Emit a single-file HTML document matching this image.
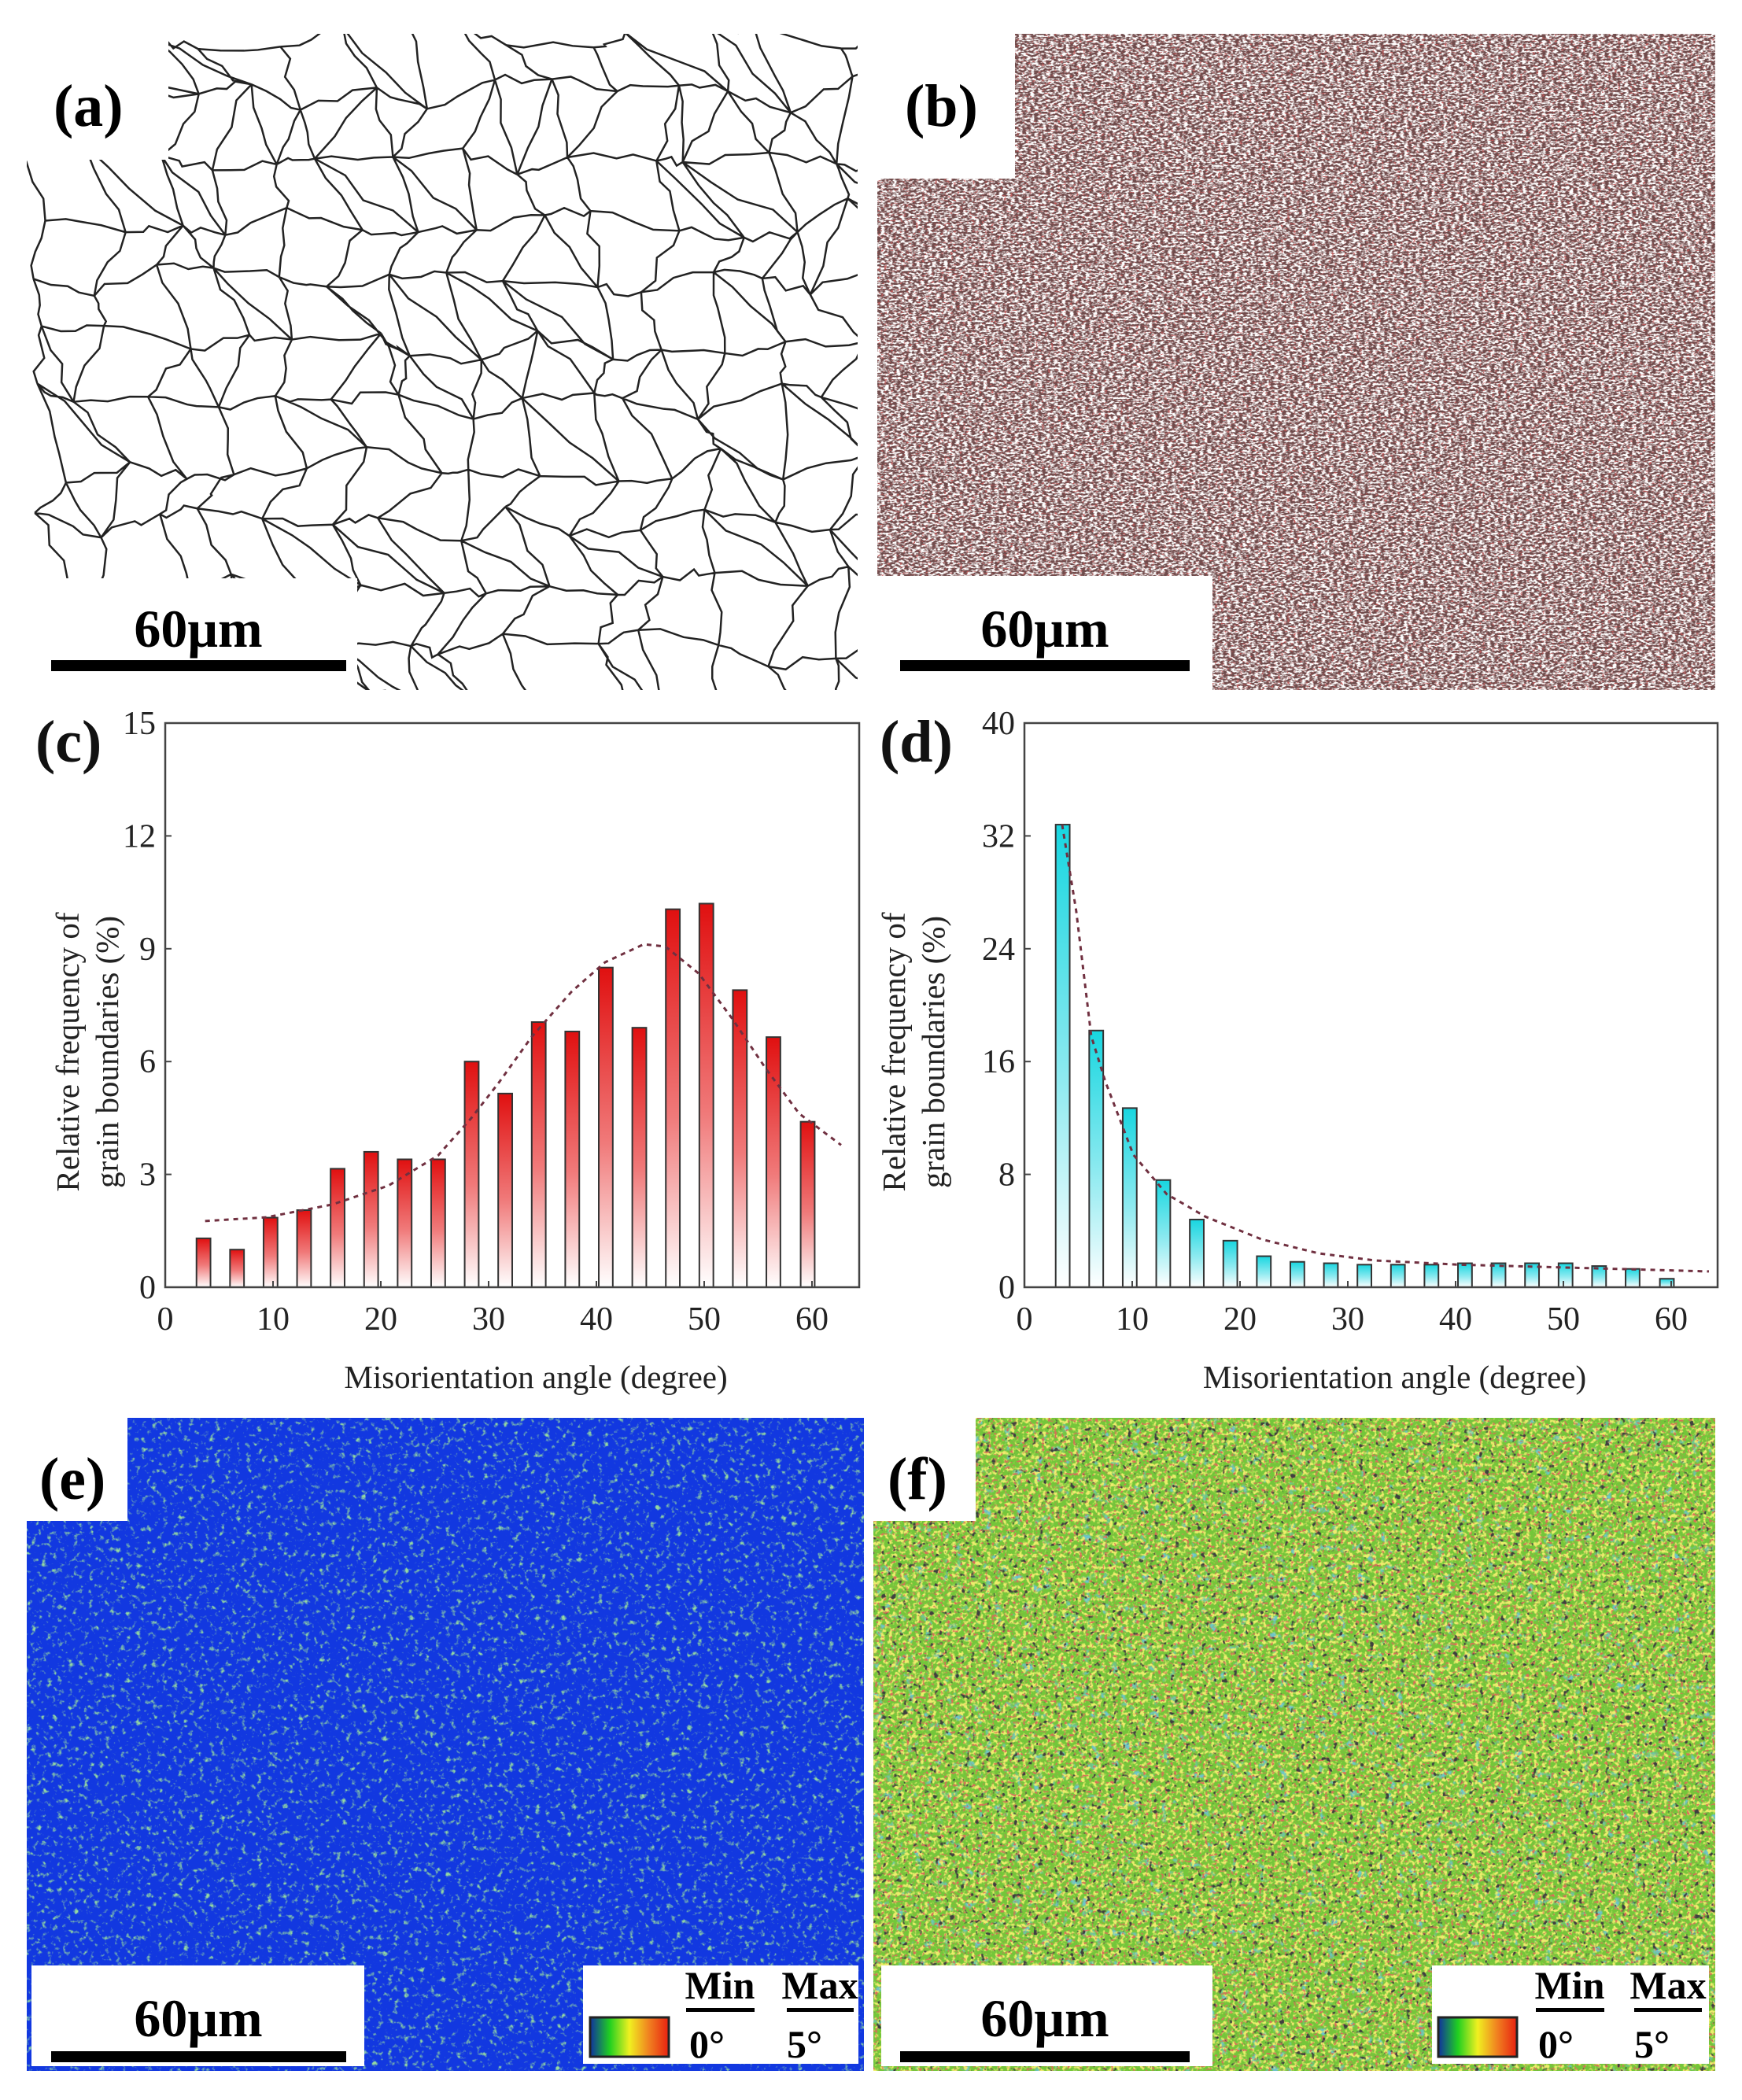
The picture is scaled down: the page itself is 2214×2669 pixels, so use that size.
<!DOCTYPE html>
<html><head><meta charset="utf-8"><style>
html,body{margin:0;padding:0;background:#fff;}
svg{display:block;}
text{font-family:"Liberation Serif",serif;}
</style></head><body>
<svg id="fig" width="2214" height="2669" viewBox="0 0 2214 2669" xmlns="http://www.w3.org/2000/svg">
<defs>
 <linearGradient id="gRed" x1="0" y1="0" x2="0" y2="1"><stop offset="0" stop-color="#e01010"/><stop offset="0.55" stop-color="#f07a7a"/><stop offset="1" stop-color="#ffffff"/></linearGradient>
 <linearGradient id="gCyan" x1="0" y1="0" x2="0" y2="1"><stop offset="0" stop-color="#18d6e0"/><stop offset="0.55" stop-color="#8eeaf0"/><stop offset="1" stop-color="#ffffff"/></linearGradient>
 <linearGradient id="gBar" x1="0" y1="0" x2="1" y2="0"><stop offset="0" stop-color="#1030a0"/><stop offset="0.25" stop-color="#20d020"/><stop offset="0.5" stop-color="#f0f020"/><stop offset="0.75" stop-color="#f08020"/><stop offset="1" stop-color="#e82010"/></linearGradient>
 <filter id="fb" filterUnits="userSpaceOnUse" x="1115" y="43" width="1065" height="834"><feTurbulence type="fractalNoise" baseFrequency="0.2 0.4" numOctaves="2" seed="4"/><feColorMatrix type="matrix" values="0 0 0 0 0.16  0 0 0 0 0.07  0 0 0 0 0.07  -5 0 0 0 3.1"/></filter>
 <filter id="fb2" filterUnits="userSpaceOnUse" x="1115" y="43" width="1065" height="834"><feTurbulence type="fractalNoise" baseFrequency="0.25 0.5" numOctaves="2" seed="9"/><feColorMatrix type="matrix" values="0 0 0 0 0.55  0 0 0 0 0.1  0 0 0 0 0.1  6 0 0 0 -3.6"/></filter>
 <filter id="fe" filterUnits="userSpaceOnUse" x="34" y="1802" width="1064" height="830"><feTurbulence type="fractalNoise" baseFrequency="0.15" numOctaves="3" seed="7"/><feColorMatrix type="matrix" values="0 0 0 0 0.3  0 0 0 0 0.7  0 0 0 0 0.35  4 0 0 0 -2.3"/></filter>
 <filter id="fy" filterUnits="userSpaceOnUse" x="1110" y="1802" width="1070" height="830"><feTurbulence type="fractalNoise" baseFrequency="0.2" numOctaves="2" seed="2"/><feColorMatrix type="matrix" values="0 0 0 0 0.85  0 0 0 0 0.85  0 0 0 0 0.15  5 0 0 0 -2.4"/></filter>
 <filter id="fr" filterUnits="userSpaceOnUse" x="1110" y="1802" width="1070" height="830"><feTurbulence type="fractalNoise" baseFrequency="0.25" numOctaves="2" seed="11"/><feColorMatrix type="matrix" values="0 0 0 0 0.7  0 0 0 0 0.15  0 0 0 0 0.1  6 0 0 0 -3.5"/></filter>
 <filter id="fk" filterUnits="userSpaceOnUse" x="1110" y="1802" width="1070" height="830"><feTurbulence type="fractalNoise" baseFrequency="0.15" numOctaves="2" seed="19"/><feColorMatrix type="matrix" values="0 0 0 0 0.05  0 0 0 0 0.05  0 0 0 0 0.05  8 0 0 0 -5.1"/></filter>
 <filter id="fbl" filterUnits="userSpaceOnUse" x="1110" y="1802" width="1070" height="830"><feTurbulence type="fractalNoise" baseFrequency="0.08" numOctaves="3" seed="23"/><feColorMatrix type="matrix" values="0 0 0 0 0.15  0 0 0 0 0.55  0 0 0 0 0.6  5 0 0 0 -3.1"/></filter>
</defs>

<!-- panel a -->
<g id="panelA"></g>
<rect x="34" y="43" width="180" height="160" fill="#fff"/>
<text x="68" y="160" font-size="76" font-weight="bold">(a)</text>
<rect x="34" y="735" width="420" height="142" fill="#fff"/>
<text x="252" y="822" font-size="68" font-weight="bold" text-anchor="middle">60μm</text>
<rect x="65" y="839" width="375" height="14" fill="#000"/>

<!-- panel b -->
<g>
 <rect x="1115" y="43" width="1065" height="834" fill="#fff"/>
 <rect x="1115" y="43" width="1065" height="834" filter="url(#fb)"/>
 <rect x="1115" y="43" width="1065" height="834" filter="url(#fb2)"/>
</g>
<rect x="1110" y="38" width="180" height="189" fill="#fff"/>
<text x="1150" y="160" font-size="76" font-weight="bold">(b)</text>
<rect x="1110" y="732" width="431" height="150" fill="#fff"/>
<text x="1328" y="822" font-size="68" font-weight="bold" text-anchor="middle">60μm</text>
<rect x="1144" y="839" width="368" height="14" fill="#000"/>

<!-- charts -->
<g id="chartC"></g>
<g id="chartD"></g>

<!-- panel e -->
<g>
 <rect x="34" y="1802" width="1064" height="830" fill="#1238e0"/>
 <rect x="34" y="1802" width="1064" height="830" filter="url(#fe)"/>
</g>
<rect x="34" y="1802" width="128" height="131" fill="#fff"/>
<text x="50" y="1905" font-size="76" font-weight="bold">(e)</text>
<rect x="40" y="2498" width="423" height="128" fill="#fff"/>
<text x="252" y="2588" font-size="68" font-weight="bold" text-anchor="middle">60μm</text>
<rect x="65" y="2607" width="375" height="14" fill="#000"/>
<g>
 <rect x="741" y="2498" width="350" height="125" fill="#fff"/>
 <rect x="750" y="2564" width="100" height="50" fill="url(#gBar)" stroke="#222" stroke-width="3"/>
 <text x="915" y="2540" font-size="50" font-weight="bold" text-anchor="middle">Min</text>
 <rect x="872" y="2552" width="87" height="5" fill="#000"/>
 <text x="876" y="2615" font-size="50" font-weight="bold">0°</text>
 <text x="1042" y="2540" font-size="50" font-weight="bold" text-anchor="middle">Max</text>
 <rect x="1000" y="2552" width="85" height="5" fill="#000"/>
 <text x="1000" y="2615" font-size="50" font-weight="bold">5°</text>
</g>

<!-- panel f -->
<g>
 <rect x="1110" y="1802" width="1070" height="830" fill="#74c63a"/>
 <rect x="1110" y="1802" width="1070" height="830" filter="url(#fbl)"/>
 <rect x="1110" y="1802" width="1070" height="830" filter="url(#fy)"/>
 <rect x="1110" y="1802" width="1070" height="830" filter="url(#fr)"/>
 <rect x="1110" y="1802" width="1070" height="830" filter="url(#fk)"/>
</g>
<rect x="1110" y="1802" width="130" height="131" fill="#fff"/>
<text x="1128" y="1905" font-size="76" font-weight="bold">(f)</text>
<rect x="1120" y="2498" width="421" height="128" fill="#fff"/>
<text x="1328" y="2588" font-size="68" font-weight="bold" text-anchor="middle">60μm</text>
<rect x="1144" y="2607" width="368" height="14" fill="#000"/>
<g>
 <rect x="1820" y="2498" width="352" height="125" fill="#fff"/>
 <rect x="1828" y="2564" width="100" height="50" fill="url(#gBar)" stroke="#222" stroke-width="3"/>
 <text x="1995" y="2540" font-size="50" font-weight="bold" text-anchor="middle">Min</text>
 <rect x="1952" y="2552" width="87" height="5" fill="#000"/>
 <text x="1955" y="2615" font-size="50" font-weight="bold">0°</text>
 <text x="2120" y="2540" font-size="50" font-weight="bold" text-anchor="middle">Max</text>
 <rect x="2077" y="2552" width="86" height="5" fill="#000"/>
 <text x="2077" y="2615" font-size="50" font-weight="bold">5°</text>
</g>
</svg>
<script>
// ---- chart data ----
const barAngles = [3.55,6.66,9.77,12.88,15.99,19.1,22.21,25.32,28.43,31.54,34.65,37.76,40.87,43.98,47.09,50.2,53.31,56.42,59.6];
const valuesC = [1.3,1.0,1.85,2.05,3.15,3.6,3.4,3.4,6.0,5.15,7.05,6.8,8.5,6.9,10.05,10.2,7.9,6.65,4.4];
const valuesD = [32.8,18.2,12.7,7.6,4.8,3.3,2.2,1.8,1.7,1.6,1.6,1.6,1.7,1.7,1.7,1.7,1.5,1.3,0.6];
const fitXC = [3.7,9.4,15.5,20.7,25.3,28.4,31,34,37.7,40.8,44.4,46.4,49.5,52.6,55.7,58.8,62.7];
const fitYC = [1.76,1.86,2.2,2.7,3.5,4.5,5.46,6.66,7.86,8.64,9.12,9.06,8.34,7.14,5.82,4.62,3.78];
const fitXD = [3.5,4.8,6.2,7.5,10.1,13.2,16.8,22,27.3,32.5,40.3,48.1,55.9,63.5];
const fitYD = [32.8,26.7,17.8,14.6,9.4,6.6,5.0,3.4,2.4,1.9,1.6,1.44,1.28,1.12];
const xTicks = [0,10,20,30,40,50,60];
const yTicksC = [0,3,6,9,12,15];
const yTicksD = [0,8,16,24,32,40];

const NS = "http://www.w3.org/2000/svg";
function mk(tag, attrs, parent){const e=document.createElementNS(NS,tag);for(const k in attrs)e.setAttribute(k,attrs[k]);parent.appendChild(e);return e;}

function drawChart(gid, L, R, yMax, vals, fitX, fitY, yTicks, grad, label, t1x, t2x, labX){
  const g=document.getElementById(gid);
  const T=919,B=1636, xMaxDeg=(R-L)/((1032-210)/60);
  const sx=v=>L+v*(R-L)/xMaxDeg, sy=v=>B-v*(B-T)/yMax;
  const bw=1.3*(R-L)/xMaxDeg;
  barAngles.forEach((a,i)=>{
    const r=mk('rect',{x:sx(a)-bw/2,y:sy(vals[i]),width:bw,height:B-sy(vals[i]),fill:grad,stroke:'#333','stroke-width':2},g);
    
    
  });
  let d='';fitX.forEach((x,i)=>{d+=(i?'L':'M')+sx(x)+','+sy(fitY[i]);});
  const p=mk('path',{d:d,fill:'none',stroke:'#703040','stroke-width':3,'stroke-dasharray':'6,6'},g);
  
  
  const fr=mk('rect',{x:L,y:T,width:R-L,height:B-T,fill:'none',stroke:'#444','stroke-width':2.5},g);
  
  
  xTicks.forEach(v=>{
    mk('line',{x1:sx(v),x2:sx(v),y1:B,y2:B-8,stroke:'#444','stroke-width':2},g);
    const t=mk('text',{x:sx(v),y:1690,'font-size':42,'text-anchor':'middle',fill:'#222'},g);
    t.textContent=v;
    
    
  });
  yTicks.forEach(v=>{
    mk('line',{x1:L,x2:L+8,y1:sy(v),y2:sy(v),stroke:'#444','stroke-width':2},g);
    const t=mk('text',{x:L-12,y:sy(v)+14,'font-size':42,'text-anchor':'end',fill:'#222'},g);
    t.textContent=v;
    
    
  });
  const xt=mk('text',{x:(L+R)/2+30,y:1764,'font-size':41,'text-anchor':'middle',fill:'#222'},g);
  xt.textContent='Misorientation angle (degree)';
  
  
  const cy=1337;
  const y1=mk('text',{x:t1x,y:cy,'font-size':41,'text-anchor':'middle',fill:'#222',transform:`rotate(-90 ${t1x} ${cy})`},g);
  y1.textContent='Relative frequency of';
  
  
  const y2=mk('text',{x:t2x,y:cy,'font-size':41,'text-anchor':'middle',fill:'#222',transform:`rotate(-90 ${t2x} ${cy})`},g);
  y2.textContent='grain boundaries (%)';
  
  
  const pl=mk('text',{x:labX,y:968,'font-size':76,'font-weight':'bold',fill:'#111'},g);
  pl.textContent=label;
  
  
}
drawChart('chartC',210,1092,15,valuesC,fitXC,fitYC,yTicksC,'url(#gRed)','(c)',100,150,45);
drawChart('chartD',1302,2183,40,valuesD,fitXD,fitYD,yTicksD,'url(#gCyan)','(d)',1150,1200,1118);

// ---- panel a grain network (texture) ----
(function(){
  const g=document.getElementById('panelA');
  let s=12345;const rnd=()=>{s=(s*1103515245+12345)%2147483648;return s/2147483648;};
  const X0=34,Y0=43,W=1056,H=834,step=78;
  const cols=Math.ceil(W/step)+1, rows=Math.ceil(H/step)+1, P=[];
  for(let r=0;r<=rows;r++){P.push([]);for(let c=0;c<=cols;c++){P[r].push([X0+c*step+(rnd()-0.5)*50+(r%2)*step/2,Y0+r*step+(rnd()-0.5)*50]);}}
  let d='';
  const seg=(a,b)=>{d+=`M${a[0]},${a[1]}`;const n=4;for(let k=1;k<=n;k++){const t=k/n;const x=a[0]+(b[0]-a[0])*t+(k<n?(rnd()-0.5)*14:0),y=a[1]+(b[1]-a[1])*t+(k<n?(rnd()-0.5)*14:0);d+=`L${x},${y}`;}};
  for(let r=0;r<=rows;r++)for(let c=0;c<=cols;c++){
    if(c<cols)seg(P[r][c],P[r][c+1]);
    if(r<rows){seg(P[r][c],P[r+1][c]); if(rnd()<0.35&&c<cols)seg(P[r][c],P[r+1][c+1]);}
  }
  mk('clipPath',{id:'clipA'},document.querySelector('defs'));
  mk('rect',{x:X0,y:Y0,width:W,height:H},document.getElementById('clipA'));
  mk('path',{d:d,fill:'none',stroke:'#222','stroke-width':2.5,'clip-path':'url(#clipA)'},g);
})();
</script>
</body></html>
